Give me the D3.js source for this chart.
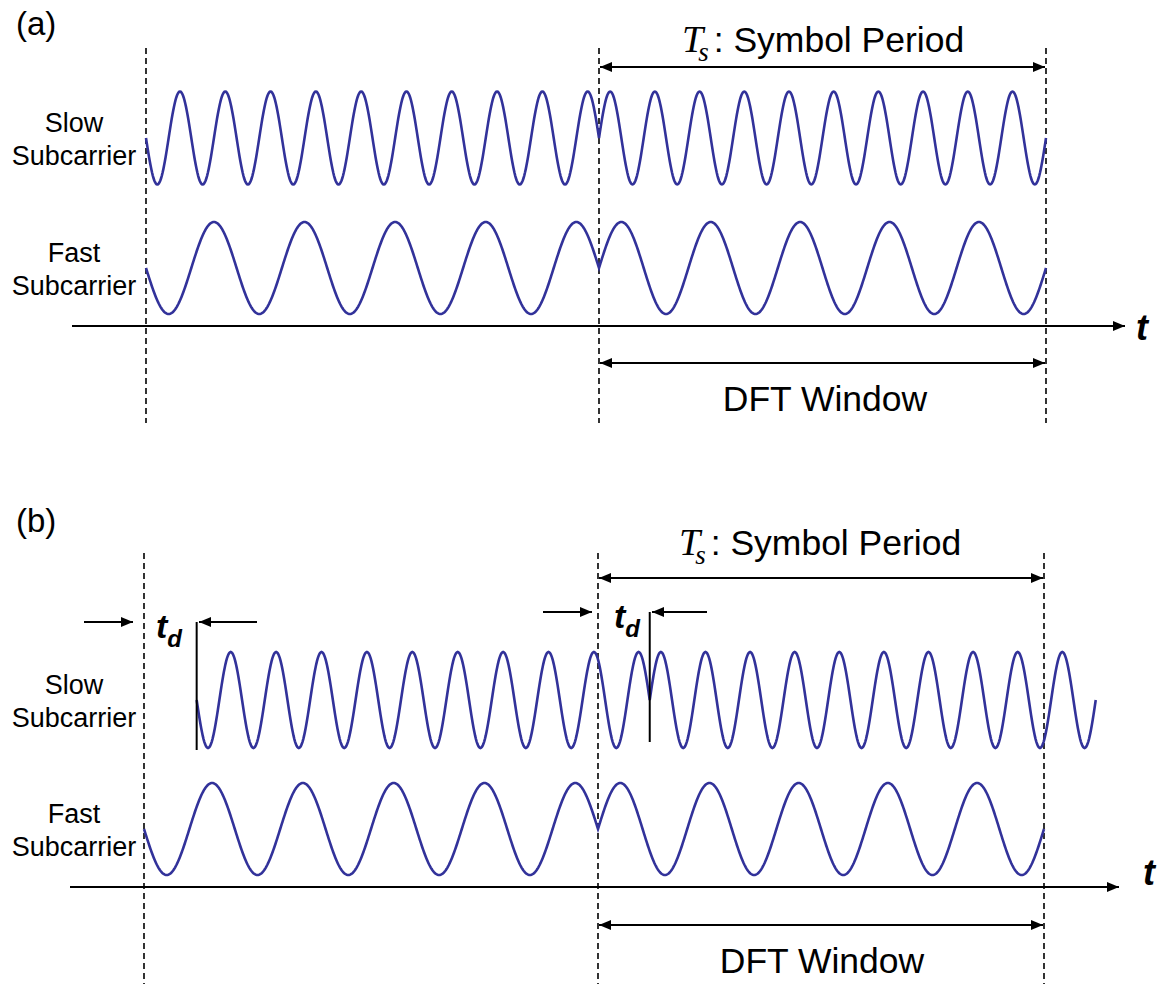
<!DOCTYPE html>
<html>
<head>
<meta charset="utf-8">
<script src="https://cdn.jsdelivr.net/npm/d3@7"></script>
<style>
  body { margin: 0; background: #fff; }
  text { font-family: "Liberation Sans", Arial, sans-serif; fill: #000; }
</style>
</head>
<body>
<svg id="chart" width="1163" height="984"></svg>
<script>
// Symbol boundaries, in units of the symbol period Ts
const symbolBounds = [0, 1, 2];
// Subcarrier rows and their number of cycles per symbol
const subcarrierNames = ["Slow", "Fast"];
const cyclesPerSymbol = [10, 5];
// Sign of the sinusoid carried in each symbol
const symbolSigns = [-1, 1];
// Timing offset t_d of the slow subcarrier per panel (units of Ts)
const slowDelays = [0, 0.116];
const panelNames = ["(a)", "(b)"];
const rowLabelSuffix = "Subcarrier";
const periodLabel = ": Symbol Period";
const windowLabel = "DFT Window";

const svg = d3.select("#chart");
const waveColor = "#32329a";

// Arrowhead marker
const defs = svg.append("defs");
defs.append("marker")
  .attr("id", "head")
  .attr("viewBox", "0 0 12 10")
  .attr("refX", 12).attr("refY", 5)
  .attr("markerWidth", 12).attr("markerHeight", 10)
  .attr("markerUnits", "userSpaceOnUse")
  .attr("orient", "auto-start-reverse")
  .append("path").attr("d", "M0,0 L12,5 L0,10 Z").attr("fill", "#000");

// Per-panel layout
const panels = [
  { xr: [146, 599, 1046], dash: [48, 423], rows: [138, 268], amp: [46.5, 46],
    axisY: 326, axisX: [72, 1125], tPos: [1136, 340],
    tsY: 67, tsBase: 52, tsX: 682, dftY: 363, dftBase: 411, dftX: 825, nameY: 35 },
  { xr: [144, 598, 1044], dash: [553, 984], rows: [700, 829], amp: [48, 46],
    axisY: 887, axisX: [70, 1119], tPos: [1143, 885],
    tsY: 578, tsBase: 555, tsX: 679, dftY: 925, dftBase: 973, dftX: 822, nameY: 532,
    tdY: [622, 612], tdArrowIn: [[84, 133], [543, 592]], tdArrowOut: [[257, 199], [707, 652]],
    tdBar: [[622, 750], [612, 742]], tdText: [156, 614] }
];

panels.forEach((P, p) => {
  const g = svg.append("g");
  const x = d3.scaleLinear().domain(symbolBounds).range(P.xr);

  // panel name
  g.append("text").attr("x", 16).attr("y", P.nameY)
    .style("font-size", "33px").text(panelNames[p]);

  // dashed symbol boundaries
  g.selectAll(".bound").data(symbolBounds).join("line")
    .attr("x1", d => x(d)).attr("x2", d => x(d))
    .attr("y1", P.dash[0]).attr("y2", P.dash[1])
    .attr("stroke", "#000").attr("stroke-width", 1.6)
    .attr("stroke-dasharray", "6,4");

  // row labels
  subcarrierNames.forEach((name, i) => {
    const t = g.append("text").attr("text-anchor", "middle").style("font-size", "27px");
    t.append("tspan").attr("x", 74).attr("y", P.rows[i] - 6).text(name);
    t.append("tspan").attr("x", 74).attr("y", P.rows[i] + 27).text(rowLabelSuffix);
  });

  // subcarrier waveforms
  subcarrierNames.forEach((name, i) => {
    const delay = i === 0 ? slowDelays[p] : 0;
    const y = d3.scaleLinear().domain([-1, 1]).range([P.rows[i] + P.amp[i], P.rows[i] - P.amp[i]]);
    const pts = [];
    for (let k = 0; k < symbolBounds.length - 1; k++) {
      const t0 = symbolBounds[k] + delay, t1 = symbolBounds[k + 1] + delay;
      const n = 600;
      for (let j = 0; j <= n; j++) {
        const t = t0 + (t1 - t0) * j / n;
        const v = symbolSigns[k] * Math.sin(2 * Math.PI * cyclesPerSymbol[i] * (t - t0));
        pts.push([t, v]);
      }
    }
    g.append("path")
      .attr("d", d3.line().x(d => x(d[0])).y(d => y(d[1]))(pts))
      .attr("fill", "none").attr("stroke", waveColor)
      .attr("stroke-width", 2.6).attr("stroke-linejoin", "miter");
  });

  // time axis
  g.append("line").attr("x1", P.axisX[0]).attr("x2", P.axisX[1])
    .attr("y1", P.axisY).attr("y2", P.axisY)
    .attr("stroke", "#000").attr("stroke-width", 2.2).attr("marker-end", "url(#head)");
  g.append("text").attr("x", P.tPos[0]).attr("y", P.tPos[1])
    .style("font-size", "36px").style("font-style", "italic").style("font-weight", "bold").text("t");

  // symbol period arrow
  const x0 = x(symbolBounds[1]), x1 = x(symbolBounds[2]);
  g.append("line").attr("x1", x0 + 1).attr("x2", x1 - 1)
    .attr("y1", P.tsY).attr("y2", P.tsY)
    .attr("stroke", "#000").attr("stroke-width", 2.2)
    .attr("marker-start", "url(#head)").attr("marker-end", "url(#head)");
  const ts = g.append("text").attr("x", P.tsX).attr("y", P.tsBase);
  ts.append("tspan").style("font-family", "'Liberation Serif', 'Times New Roman', serif")
    .style("font-style", "italic").style("font-size", "38px").text("T");
  ts.append("tspan").attr("dy", 9).attr("dx", -5)
    .style("font-family", "'Liberation Serif', 'Times New Roman', serif")
    .style("font-style", "italic").style("font-size", "27px").text("s");
  ts.append("tspan").attr("dy", -9).attr("dx", 5).style("font-size", "35.5px").text(periodLabel);

  // DFT window arrow
  g.append("line").attr("x1", x0 + 1).attr("x2", x1 - 1)
    .attr("y1", P.dftY).attr("y2", P.dftY)
    .attr("stroke", "#000").attr("stroke-width", 2.2)
    .attr("marker-start", "url(#head)").attr("marker-end", "url(#head)");
  g.append("text").attr("x", P.dftX).attr("y", P.dftBase).attr("text-anchor", "middle")
    .style("font-size", "35.5px").text(windowLabel);

  // timing offset annotation
  if (P.tdY) {
    P.tdY.forEach((yy, k) => {
      g.append("line").attr("x1", P.tdArrowIn[k][0]).attr("x2", P.tdArrowIn[k][1])
        .attr("y1", yy).attr("y2", yy).attr("stroke", "#000").attr("stroke-width", 2.2)
        .attr("marker-end", "url(#head)");
      g.append("line").attr("x1", P.tdArrowOut[k][0]).attr("x2", P.tdArrowOut[k][1])
        .attr("y1", yy).attr("y2", yy).attr("stroke", "#000").attr("stroke-width", 2.2)
        .attr("marker-end", "url(#head)");
      const xb = x(symbolBounds[k] + slowDelays[p]);
      g.append("line").attr("x1", xb).attr("x2", xb)
        .attr("y1", P.tdBar[k][0]).attr("y2", P.tdBar[k][1])
        .attr("stroke", "#000").attr("stroke-width", 2);
      const td = g.append("text").attr("x", P.tdText[k]).attr("y", yy + 16)
        .style("font-style", "italic").style("font-weight", "bold");
      td.append("tspan").style("font-size", "34px").text("t");
      td.append("tspan").attr("dy", 9).style("font-size", "24px").text("d");
    });
  }
});
</script>
</body>
</html>
